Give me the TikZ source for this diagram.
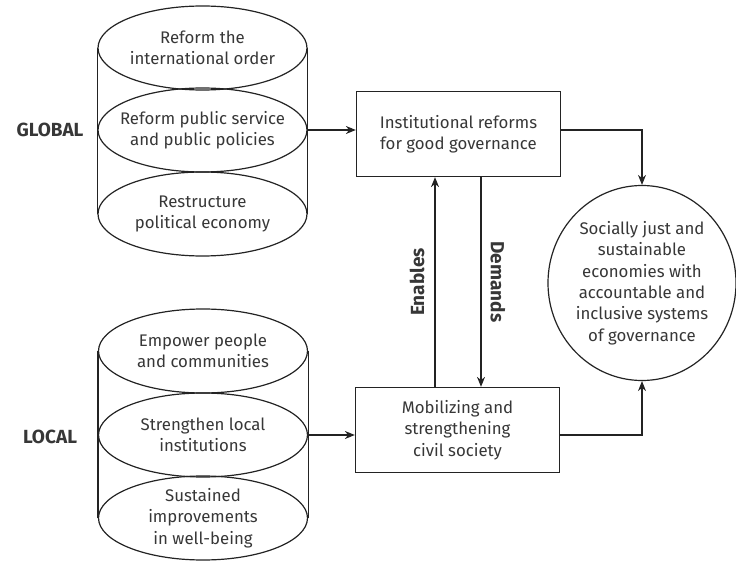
\documentclass[tikz,border=0pt]{standalone}
\usepackage{fontspec}
\setmainfont{Fira Sans}
\usetikzlibrary{arrows.meta,shapes.geometric}
\definecolor{txt}{RGB}{55,55,55}
\definecolor{ln}{RGB}{35,35,35}
\begin{document}
\begin{tikzpicture}[x=1pt,y=-1pt,
  every node/.style={text=txt, font=\fontsize{16.8}{21.3}\selectfont, align=center},
  ell/.style={ellipse, draw=ln, line width=1.2pt, minimum width=209pt, minimum height=84pt, inner xsep=-45pt, inner ysep=-20pt},
  boxnode/.style={rectangle, draw=ln, line width=1.3pt, minimum width=204pt, minimum height=85pt, inner sep=0pt},
  goal/.style={ellipse, draw=ln, line width=1.2pt, minimum width=188pt, minimum height=195pt, inner xsep=-40pt, inner ysep=-40pt},
  lab/.style={font=\fontsize{19}{22}\selectfont\bfseries},
  arr/.style={draw=ln, line width=1.1pt, -{Stealth[length=10pt,width=8pt]}}
]
\useasboundingbox (0,0) rectangle (736,561);

% global cylinder
\node[ell] (g1) at (202.5,48) {Reform the\\international order};
\node[ell] (g2) at (202.5,130) {Reform public service\\and public policies};
\node[ell] (g3) at (202.5,214) {Restructure\\political economy};
\draw[ln, line width=1.2pt] (g1.west) -- (g3.west);
\draw[ln, line width=1.2pt] (g1.east) -- (g3.east);
\node[lab] (glab) at (50,130) {GLOBAL};

% local cylinder
\node[ell] (l1) at (203,351) {Empower people\\and communities};
\node[ell] (l2) at (203,435) {Strengthen local\\institutions};
\node[ell] (l3) at (203,518) {Sustained\\improvements\\in well-being};
\draw[ln, line width=1.2pt] (l1.west) -- (l3.west);
\draw[ln, line width=1.2pt] (l1.east) -- (l3.east);
\node[lab] (llab) at (50,437) {LOCAL};

% boxes
\node[boxnode] (b1) at (458.5,134) {Institutional reforms\\for good governance};
\node[boxnode] (b2) at (457.5,430) {Mobilizing and\\strengthening\\civil society};

% goal
\node[goal] (c) at (642,283) {Socially just and\\sustainable\\economies with\\accountable and\\inclusive systems\\of governance};

% connectors
\draw[arr] (g2.east) -- (g2.east -| b1.west);
\draw[arr] (l2.east) -- (l2.east -| b2.west);
\coordinate (ex) at (435,0);
\coordinate (dx) at (481,0);
\draw[arr] (ex |- b2.north) -- (ex |- b1.south);
\draw[arr] (dx |- b1.south) -- (dx |- b2.north);
\draw[arr] (b1.east |- g2.east) -| (c.north);
\draw[arr] (b2.east |- l2.east) -| (c.south);

\node[lab, rotate=90] (en) at (417,282) {Enables};
\node[lab, rotate=-90] (de) at (498,282) {Demands};
\end{tikzpicture}
\end{document}
